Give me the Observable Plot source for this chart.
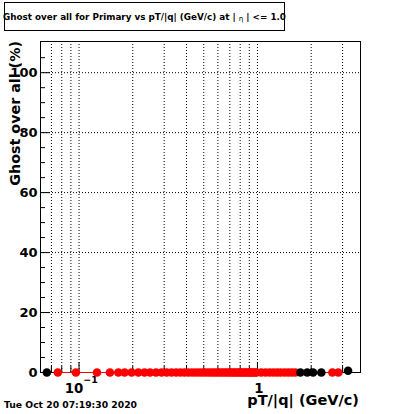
<!DOCTYPE html>
<html><head><meta charset="utf-8">
<script src="https://cdn.jsdelivr.net/npm/d3@7"></script>
<script src="https://cdn.jsdelivr.net/npm/@observablehq/plot@0.6"></script>
<style>
body{margin:0;background:#fff;}
#chart{position:relative;width:400px;height:414px;}
</style>
</head><body><div id="chart"></div>
<script>
const titleText = ["Ghost over all for Primary vs pT/|q| (GeV/c) at | ", "η", " | <= 1.0"];
const xTitle = "pT/|q| (GeV/c)";
const yTitle = "Ghost over all (%)";
const dateText = "Tue Oct 20 07:19:30 2020";

// red series (pT/|q|, ghost %)
const redPt = [0.076, 0.096, 0.126, 0.149, 0.166, 0.180, 0.197, 0.215, 0.233,
  0.25, 0.27, 0.29, 0.31, 0.33, 0.35, 0.37, 0.39, 0.41, 0.43, 0.45, 0.47, 0.49,
  0.51, 0.53, 0.55, 0.57, 0.59, 0.61, 0.63, 0.65, 0.67, 0.69, 0.71, 0.73, 0.75,
  0.77, 0.79, 0.81, 0.83, 0.85, 0.87, 0.89, 0.91, 0.93, 0.95, 0.97, 0.99,
  1.05, 1.11, 1.17, 1.23, 1.29, 1.35, 1.42, 1.49, 1.56, 1.63, 2.63, 2.84];
const redVal = [0, 0, 0, 0, 0, 0, 0, 0, 0,
  0, 0, 0, 0, 0, 0, 0, 0, 0, 0, 0, 0, 0,
  0, 0, 0, 0, 0, 0, 0, 0, 0, 0, 0, 0, 0,
  0, 0, 0, 0, 0, 0, 0, 0, 0, 0, 0, 0,
  0, 0, 0, 0, 0, 0, 0, 0, 0, 0, 0, 0];
// black series
const blackPt = [0.066, 1.74, 1.90, 2.05, 2.28, 3.22];
const blackVal = [0, 0, 0, 0, 0, 0.6];

const xDomain = [0.0608, 3.78];
const yDomain = [0, 110.4];
const xGrid = [0.07, 0.08, 0.09, 0.1, 0.2, 0.3, 0.4, 0.5, 0.6, 0.7, 0.8, 0.9, 1, 2, 3];
const xMajor = [0.1, 1];
const xMinor = [0.07, 0.08, 0.09, 0.2, 0.3, 0.4, 0.5, 0.6, 0.7, 0.8, 0.9, 2, 3];
const yTicks = [0, 20, 40, 60, 80, 100];
const yGrid = [20, 40, 60, 80, 100];
const yMinor = [5, 10, 15, 25, 30, 35, 45, 50, 55, 65, 70, 75, 85, 90, 95, 105];

const red = redPt.map((x, i) => ({x, y: redVal[i]}));
const black = blackPt.map((x, i) => ({x, y: blackVal[i]}));

const FONT = "DejaVu Sans";
const W = 400, H = 414, ML = 40, MR = 40, MT = 41, MB = 42;
const PW = W - ML - MR, PH = H - MT - MB;

const svg = Plot.plot({
  width: W, height: H,
  marginLeft: ML, marginRight: MR, marginTop: MT, marginBottom: MB,
  style: {fontFamily: FONT, background: "#fff", overflow: "visible"},
  x: {type: "log", domain: xDomain, axis: null},
  y: {domain: yDomain, axis: null},
  marks: [
    Plot.ruleX(xGrid, {x: d => d, stroke: "#000", strokeWidth: 1, strokeDasharray: "1,2"}),
    Plot.ruleY(yGrid, {y: d => d, stroke: "#000", strokeWidth: 1, strokeDasharray: "1,2"}),
    Plot.tickY(yTicks, {y: d => d, stroke: "#000", insetRight: PW - 10}),
    Plot.tickY(yMinor, {y: d => d, stroke: "#000", insetRight: PW - 5}),
    Plot.tickX(xMajor, {x: d => d, stroke: "#000", insetTop: PH - 10}),
    Plot.tickX(xMinor, {x: d => d, stroke: "#000", insetTop: PH - 6}),
    Plot.frame({stroke: "#000", strokeWidth: 1}),
    Plot.text(yTicks, {y: d => d, text: d => String(d), frameAnchor: "left", textAnchor: "end", dx: -3,
      lineAnchor: "middle", fontSize: 13, fontWeight: "bold", fill: "#000"}),
    Plot.text([xMajor[0]], {x: d => d, text: () => "10", frameAnchor: "bottom", lineAnchor: "bottom",
      dy: 20.7, dx: -5, fontSize: 13.4, fontWeight: "bold", fill: "#000"}),
    Plot.text([xMajor[0]], {x: d => d, text: () => "\u22121", frameAnchor: "bottom", lineAnchor: "bottom",
      textAnchor: "start", dy: 10.7, dx: 4.3, fontSize: 9.5, fontWeight: "bold", fill: "#000"}),
    Plot.text([xMajor[1]], {x: d => d, text: () => "1", frameAnchor: "bottom", lineAnchor: "bottom",
      dy: 20.7, dx: 1.5, fontSize: 13.4, fontWeight: "bold", fill: "#000"}),
    Plot.line(red, {x: "x", y: "y", stroke: "#ff0000", strokeWidth: 1.2}),
    Plot.dot(red, {x: "x", y: "y", r: 4.3, fill: "#ff0000", stroke: "none"}),
    Plot.dot(black, {x: "x", y: "y", r: 4.3, fill: "#000", stroke: "none"})
  ]
});

const s = d3.select(svg);
// title box
s.append("rect").attr("x", 4.5).attr("y", 2.5).attr("width", 280).attr("height", 28)
  .attr("fill", "#fff").attr("stroke", "#000").attr("stroke-width", 1);
const t = s.append("text").attr("x", 3).attr("y", 19.5).attr("text-anchor", "start")
  .attr("font-family", FONT).attr("font-weight", "bold").attr("font-size", 8.6).attr("fill", "#000")
  .attr("textLength", 283).attr("lengthAdjust", "spacingAndGlyphs");
t.append("tspan").text(titleText[0]);
t.append("tspan").attr("font-weight", "normal").attr("font-size", 7).attr("dy", 1).text(titleText[1]);
t.append("tspan").attr("dy", -1).text(titleText[2]);
// y title
s.append("text").attr("transform", "translate(19.5,41) rotate(-90)").attr("text-anchor", "end")
  .attr("font-family", FONT).attr("font-weight", "bold").attr("font-size", 14.3).attr("fill", "#000")
  .text(yTitle);
// x title
s.append("text").attr("x", 359).attr("y", 405).attr("text-anchor", "end")
  .attr("font-family", FONT).attr("font-weight", "bold").attr("font-size", 14.5).attr("fill", "#000")
  .text(xTitle);
// date
s.append("text").attr("x", 4).attr("y", 408).attr("text-anchor", "start")
  .attr("font-family", FONT).attr("font-weight", "bold").attr("font-size", 9).attr("fill", "#000")
  .attr("textLength", 133).attr("lengthAdjust", "spacingAndGlyphs")
  .text(dateText);

document.getElementById("chart").appendChild(svg);
</script>
</body></html>
